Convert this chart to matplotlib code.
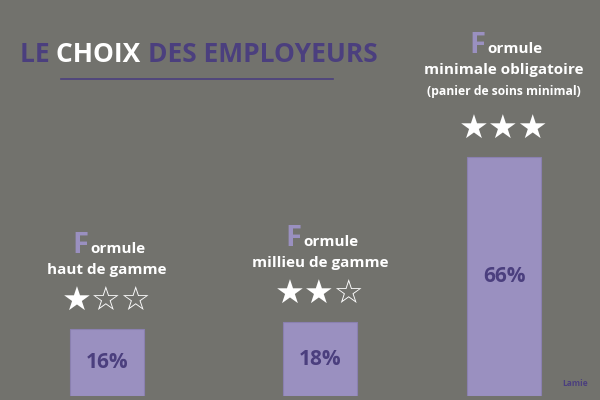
import matplotlib.pyplot as plt
from matplotlib.lines import Line2D

# data
formules = ["haut de gamme", "millieu de gamme", "minimale obligatoire"]
notes = ["(panier de soins minimal)"]
pourcentages = [16, 18, 66]
etoiles = [1, 2, 3]

# layout (pixels in a 600 px wide frame)
xpos = [107, 320, 504]
largeur = 74
base = -3.5

bg = "#72726d"
violet = "#9a90c0"
violet_fonce = "#4b3f7e"
blanc = "#ffffff"
police = ["Open Sans", "DejaVu Sans"]

fig = plt.figure(figsize=(6, 4), dpi=100, facecolor=bg)
ax = fig.add_axes([0, 0.01, 1, 0.89])
ax.set_facecolor(bg)
ax.set_xlim(0, 600)
ax.set_ylim(base, 100)
ax.axis("off")

ax.bar(xpos, [p - base for p in pourcentages], bottom=base, width=largeur,
       color=violet, edgecolor="#8a80b0", linewidth=0.8)

pt = 72 / 100  # points per pixel
for i, (x, p, n) in enumerate(zip(xpos, pourcentages, etoiles)):
    # percentage label centred in the visible part of the bar
    ax.text(x, (p + base) / 2, f"{p}%", ha="center", va="center",
            fontsize=15, fontweight="bold", color=violet_fonce, family=police)
    # stars
    stars = "★" * n + "☆" * (3 - n)
    ax.annotate(stars, (x, p), xytext=(0, 28 * pt), textcoords="offset points",
                ha="center", va="center", fontsize=24, color=blanc,
                family="DejaVu Sans")
    # text lines above the stars
    lignes = [formules[i]]
    if i == 2:
        lignes.append(notes[0])
    dy = 65 if i == 2 else 59
    for ligne in reversed(lignes):
        small = ligne.startswith("(")
        ax.annotate(ligne, (x, p), xytext=(0, dy * pt), textcoords="offset points",
                    ha="center", va="center", fontsize=8.7 if small else 11,
                    fontweight="bold", color=blanc, family=police)
        dy += 22 if small else 25
    ax.annotate("F", (x, p), xytext=(-19 * pt, (dy - 8) * pt), textcoords="offset points",
                ha="right", va="baseline", fontsize=21, fontweight="bold",
                color=violet, family=police)
    ax.annotate("ormule", (x, p), xytext=(-17 * pt, (dy - 8) * pt), textcoords="offset points",
                ha="left", va="baseline", fontsize=11, fontweight="bold",
                color=blanc, family=police)

# title in three colours
t1 = fig.text(20 / 600, 1 - 62 / 400, "LE ", fontsize=19, fontweight="bold",
              color=violet_fonce, family=police, va="baseline")
t2 = ax.annotate("CHOIX ", xy=(1, 0), xycoords=t1, va="bottom", fontsize=19,
                 fontweight="bold", color=blanc, family=police)
ax.annotate("DES EMPLOYEURS", xy=(1, 0), xycoords=t2, va="bottom", fontsize=19,
            fontweight="bold", color=violet_fonce, family=police)
fig.add_artist(Line2D([61 / 600, 333 / 600], [1 - 79 / 400] * 2,
                      color=violet_fonce, linewidth=1.2))

# small logo text
fig.text(575 / 600, 1 - 383 / 400, "Lamie", ha="center", va="center",
         fontsize=6, fontweight="bold", color=violet_fonce, family=police)

fig.savefig("out.png", dpi=100, facecolor=bg)
